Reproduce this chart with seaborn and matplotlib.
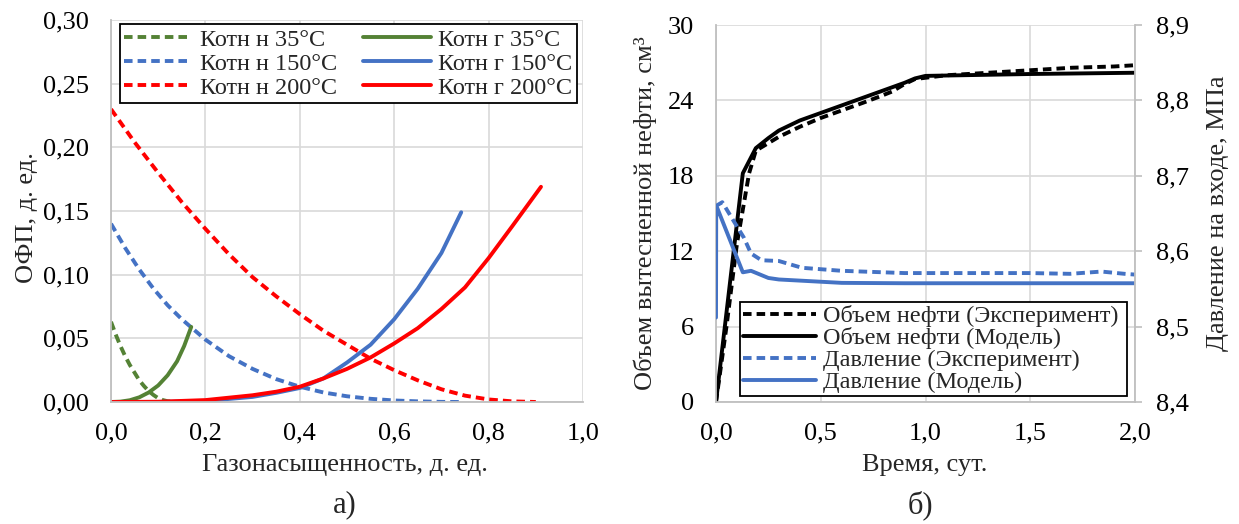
import numpy as np
import pandas as pd
import seaborn as sns
import matplotlib.pyplot as plt
from matplotlib.ticker import FuncFormatter, MultipleLocator

# ---- data: left panel (relative permeability vs gas saturation) ----
kn35_x = [0, 0.01, 0.02, 0.03, 0.04, 0.05, 0.06, 0.07, 0.08, 0.09, 0.10, 0.11, 0.12, 0.13, 0.14]
kn35_y = [0.063, 0.053, 0.044, 0.036, 0.029, 0.023, 0.017, 0.0125, 0.0085, 0.0055, 0.003,
          0.0015, 0.0006, 0.0002, 0]
kg35_x = [0, 0.02, 0.04, 0.06, 0.08, 0.10, 0.12, 0.14, 0.155, 0.17]
kg35_y = [0, 0.0003, 0.0014, 0.0037, 0.0075, 0.013, 0.021, 0.032, 0.044, 0.059]
kn150_x = [0, 0.03, 0.06, 0.09, 0.12, 0.15, 0.2, 0.25, 0.3, 0.35, 0.4, 0.45, 0.5, 0.55,
           0.6, 0.65, 0.7, 0.744]
kn150_y = [0.140, 0.121, 0.104, 0.089, 0.076, 0.065, 0.049, 0.036, 0.026, 0.018, 0.012,
           0.0075, 0.0045, 0.0025, 0.0012, 0.0005, 0.0001, 0]
kg150_x = [0, 0.1, 0.2, 0.3, 0.35, 0.4, 0.45, 0.5, 0.55, 0.6, 0.65, 0.7, 0.742]
kg150_y = [0, 0.00005, 0.0008, 0.0040, 0.0072, 0.0110, 0.0185, 0.031, 0.045, 0.065, 0.089,
           0.117, 0.149]
kn200_x = [0, 0.05, 0.1, 0.15, 0.2, 0.25, 0.3, 0.35, 0.4, 0.45, 0.5, 0.55, 0.6, 0.65, 0.7,
           0.75, 0.8, 0.85, 0.9]
kn200_y = [0.230, 0.204, 0.180, 0.157, 0.136, 0.116, 0.098, 0.083, 0.069, 0.056, 0.045,
           0.034, 0.025, 0.017, 0.010, 0.005, 0.002, 0.0005, 0]
kg200_x = [0, 0.1, 0.2, 0.3, 0.35, 0.4, 0.45, 0.5, 0.55, 0.6, 0.65, 0.7, 0.75, 0.8, 0.85,
           0.911]
kg200_y = [0, 0.0002, 0.0015, 0.0053, 0.0081, 0.012, 0.0185, 0.026, 0.035, 0.046, 0.058,
           0.073, 0.090, 0.113, 0.138, 0.169]

left_names = ["Котн н 35°C", "Котн н 150°C", "Котн н 200°C",
              "Котн г 35°C", "Котн г 150°C", "Котн г 200°C"]

# ---- data: right panel (oil volume and inlet pressure vs time) ----
vexp_t = [0, 0.05, 0.10, 0.13, 0.158, 0.19, 0.25, 0.3, 0.4, 0.5, 0.6, 0.7, 0.78, 0.84,
          0.9, 0.95, 1.1, 1.3, 1.5, 1.7, 1.9, 2.0]
vexp_v = [0, 6.0, 12.6, 15.5, 18.2, 20.0, 20.6, 21.1, 21.9, 22.6, 23.2, 23.8, 24.3, 24.7,
          25.3, 25.7, 26.0, 26.2, 26.4, 26.6, 26.7, 26.8]
vmod_t = [0, 0.128, 0.19, 0.25, 0.3, 0.4, 0.5, 0.6, 0.7, 0.8, 0.9, 0.95, 1.0, 1.5, 2.0]
vmod_v = [0, 18.2, 20.2, 21.0, 21.6, 22.4, 23.0, 23.6, 24.2, 24.8, 25.4, 25.75, 25.95,
          26.1, 26.2]
pexp_t = [0, 0.03, 0.08, 0.133, 0.167, 0.217, 0.3, 0.41, 0.6, 0.9, 1.2, 1.5, 1.69, 1.84,
          1.95, 2.0]
pexp_p = [8.660, 8.665, 8.642, 8.618, 8.597, 8.588, 8.587, 8.578, 8.574, 8.571, 8.571,
          8.571, 8.570, 8.573, 8.570, 8.569]
pmod_t = [0, 0.001, 0.005, 0.128, 0.167, 0.25, 0.3, 0.4, 0.6, 0.9, 1.5, 2.0]
pmod_p = [8.512, 8.653, 8.658, 8.572, 8.574, 8.5645, 8.5625, 8.561, 8.558, 8.5575,
          8.5575, 8.5575]

right_names = ["Объем нефти (Эксперимент)", "Объем нефти (Модель)",
               "Давление (Эксперимент)", "Давление (Модель)"]

GREEN, BLUE, RED = "#548235", "#4472C4", "#FF0000"
DASH = (2.2, 1.3)
LW = 2.8
GRID = "#d9d9d9"
SPINE = "#bfbfbf"
FS = 19      # ticks and axis titles
FS_LEG = 17.5

sns.set_style("whitegrid")
plt.rcParams['font.family'] = ['Liberation Serif', 'DejaVu Serif']
plt.rcParams['font.size'] = FS
plt.rcParams['lines.solid_capstyle'] = 'round'
plt.rcParams['lines.solid_joinstyle'] = 'round'


def comma(fmt):
    return FuncFormatter(lambda v, p: format(v, fmt).replace('.', ','))


def frame(parts):
    rows = []
    for name, xs, ys in parts:
        rows.append(pd.DataFrame({"x": xs, "y": ys, "series": name}))
    return pd.concat(rows, ignore_index=True)


fig = plt.figure(figsize=(12.39, 5.24), dpi=100)
W, H = 1239, 524
ax1 = fig.add_axes([111 / W, 1 - 402 / H, 472 / W, 382 / H])
ax2 = fig.add_axes([716 / W, 1 - 402 / H, 419 / W, 377 / H])
ax3 = ax2.twinx()

# ---- left panel ----
left_df = frame([
    (left_names[0], kn35_x, kn35_y), (left_names[1], kn150_x, kn150_y),
    (left_names[2], kn200_x, kn200_y), (left_names[3], kg35_x, kg35_y),
    (left_names[4], kg150_x, kg150_y), (left_names[5], kg200_x, kg200_y),
])
left_pal = dict(zip(left_names, [GREEN, BLUE, RED, GREEN, BLUE, RED]))
left_dash = dict(zip(left_names, [DASH, DASH, DASH, "", "", ""]))
sns.lineplot(data=left_df, x="x", y="y", hue="series", style="series",
             hue_order=left_names, style_order=left_names,
             palette=left_pal, dashes=left_dash, sort=False, estimator=None,
             linewidth=LW, ax=ax1, legend=True)
ax1.get_legend().remove()

ax1.set_xlim(0, 1)
ax1.set_ylim(0, 0.30)
ax1.xaxis.set_major_locator(MultipleLocator(0.2))
ax1.yaxis.set_major_locator(MultipleLocator(0.05))
ax1.xaxis.set_major_formatter(comma(".1f"))
ax1.yaxis.set_major_formatter(comma(".2f"))
ax1.set_xlabel("Газонасыщенность, д. ед.", fontsize=FS, va="center")
ax1.set_ylabel("ОФП, д. ед.", fontsize=FS, va="center")
ax1.xaxis.set_label_coords(0.496, -0.165)
ax1.yaxis.set_label_coords(-0.178, 0.484)

h, l = ax1.get_legend_handles_labels()
ax1.legend(h, l, ncol=2, loc="lower left", bbox_to_anchor=(0.019, 0.783, 0.968, 0.204),
           mode="expand", fontsize=FS_LEG, frameon=True, fancybox=False, framealpha=1,
           edgecolor="black", borderpad=0.18, labelspacing=0.08, handlelength=2.8,
           handletextpad=0.3, columnspacing=0.6, borderaxespad=0)
ax1.get_legend().get_frame().set_linewidth(1.3)

# ---- right panel ----
vol_df = frame([(right_names[0], vexp_t, vexp_v), (right_names[1], vmod_t, vmod_v)])
pres_df = frame([(right_names[2], pexp_t, pexp_p), (right_names[3], pmod_t, pmod_p)])
sns.lineplot(data=vol_df, x="x", y="y", hue="series", style="series",
             hue_order=right_names[:2], style_order=right_names[:2],
             palette=dict(zip(right_names[:2], ["black", "black"])),
             dashes=dict(zip(right_names[:2], [DASH, ""])),
             sort=False, estimator=None, linewidth=LW, ax=ax2)
sns.lineplot(data=pres_df, x="x", y="y", hue="series", style="series",
             hue_order=right_names[2:], style_order=right_names[2:],
             palette=dict(zip(right_names[2:], [BLUE, BLUE])),
             dashes=dict(zip(right_names[2:], [DASH, ""])),
             sort=False, estimator=None, linewidth=LW, ax=ax3)
h2, l2 = ax2.get_legend_handles_labels()
h3, l3 = ax3.get_legend_handles_labels()
ax2.get_legend().remove()
ax3.get_legend().remove()

ax2.set_xlim(0, 2)
ax2.set_ylim(0, 30)
ax3.set_ylim(8.4, 8.9)
ax2.xaxis.set_major_locator(MultipleLocator(0.5))
ax2.yaxis.set_major_locator(MultipleLocator(6))
ax3.yaxis.set_major_locator(MultipleLocator(0.1))
ax2.xaxis.set_major_formatter(comma(".1f"))
ax2.yaxis.set_major_formatter(comma(".0f"))
ax3.yaxis.set_major_formatter(comma(".1f"))
ax3.grid(False)
ax2.set_xlabel("Время, сут.", fontsize=FS, va="center")
ax2.set_ylabel("Объем вытесненной нефти, см³", fontsize=FS, va="center")
ax3.set_ylabel("Давление на входе, МПа", fontsize=FS, va="center", rotation=90)
ax2.xaxis.set_label_coords(0.499, -0.167)
ax2.yaxis.set_label_coords(-0.168, 0.5)
ax3.yaxis.set_label_coords(1.197, 0.5)

ax3.legend(h2 + h3, l2 + l3, loc="lower left", bbox_to_anchor=(0.057, 0.016, 0.924, 0.252),
           mode="expand", fontsize=FS_LEG, frameon=True, fancybox=False, framealpha=1,
           edgecolor="black", borderpad=0.12, labelspacing=0.0, handlelength=3.0,
           handletextpad=0.3, borderaxespad=0)
ax3.get_legend().get_frame().set_linewidth(1.3)

# ---- shared styling ----
for ax in (ax1, ax2):
    ax.grid(True, color=GRID, linewidth=1.2)
    ax.set_axisbelow(True)
    for side in ("top", "right"):
        ax.spines[side].set_visible(False)
    for side in ("left", "bottom"):
        ax.spines[side].set_color(SPINE)
        ax.spines[side].set_linewidth(1.3)
    ax.tick_params(axis="both", length=0, labelsize=FS, colors="black")
    ax.tick_params(axis="y", pad=16)
    ax.tick_params(axis="x", pad=15)
for side in ("top", "left", "bottom"):
    ax3.spines[side].set_visible(False)
ax3.spines["right"].set_color(SPINE)
ax3.spines["right"].set_linewidth(1.3)
ax3.tick_params(axis="y", length=5, width=1.2, color=SPINE, labelsize=FS,
                labelcolor="black", pad=10)

fig.text(345 / W, 1 - 505 / H, "а)", fontsize=22, ha="center", va="center")
fig.text(920 / W, 1 - 505 / H, "б)", fontsize=22, ha="center", va="center")

fig.savefig("out.png", dpi=100, facecolor="white")
